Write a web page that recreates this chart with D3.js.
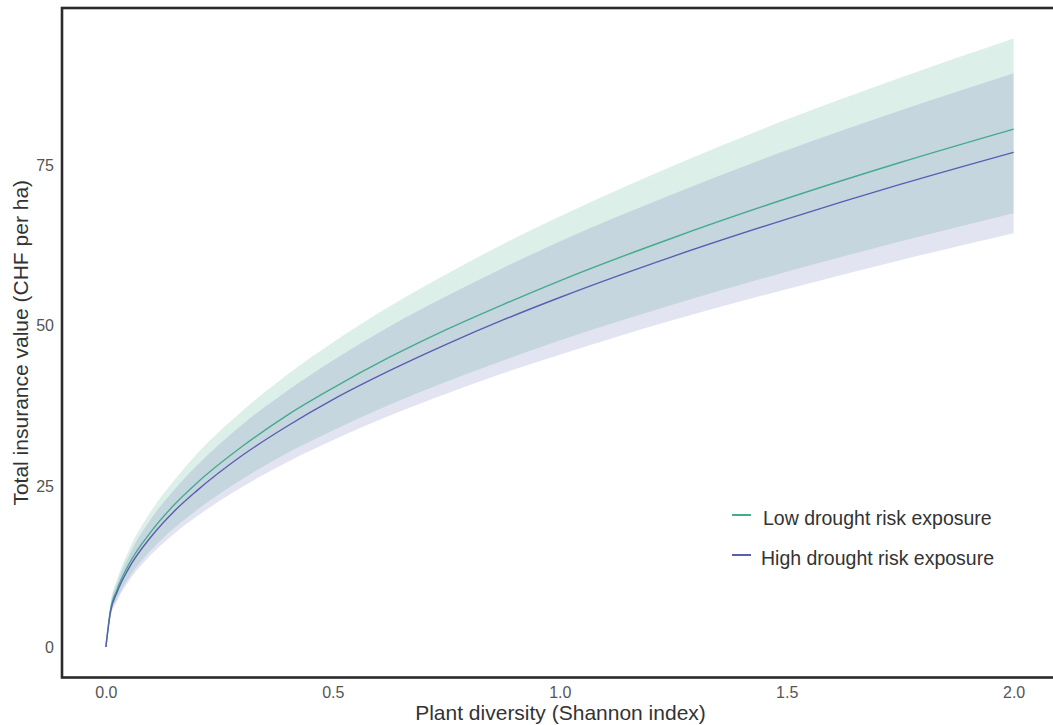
<!DOCTYPE html>
<html>
<head>
<meta charset="utf-8">
<script src="https://cdn.jsdelivr.net/npm/d3@7"></script>
<style>
	body { margin: 0; background: #fff; }
	svg { display: block; font-family: "Liberation Sans", Arial, sans-serif; }
</style>
</head>
<body>
<div id="chart"></div>
<script>
// Shannon index sample points
var diversity = [0, 0.01, 0.025, 0.05, 0.1, 0.15, 0.2, 0.3, 0.4, 0.5, 0.625, 0.75, 0.875, 1.0, 1.25, 1.5, 1.75, 2.0];

// low drought risk exposure
var lowMean = [0, 5.7, 9.0, 12.8, 18.0, 22.1, 25.5, 31.2, 36.1, 40.3, 45.1, 49.4, 53.3, 57.0, 63.7, 69.8, 75.4, 80.6];
var lowUpper = [0, 6.7, 10.6, 15.0, 21.2, 25.9, 30.0, 36.7, 42.4, 47.4, 53.0, 58.0, 62.7, 67.0, 74.9, 82.1, 88.6, 94.7];
var lowLower = [0, 4.8, 7.5, 10.7, 15.1, 18.5, 21.3, 26.1, 30.2, 33.7, 37.7, 41.3, 44.6, 47.7, 53.3, 58.4, 63.1, 67.5];

// high drought risk exposure
var highMean = [0, 5.4, 8.6, 12.2, 17.2, 21.1, 24.3, 29.8, 34.4, 38.5, 43.0, 47.1, 50.9, 54.4, 60.8, 66.6, 72.0, 77.0];
var highUpper = [0, 6.3, 10.0, 14.1, 20.0, 24.4, 28.2, 34.6, 39.9, 44.6, 49.9, 54.6, 59.0, 63.1, 70.5, 77.3, 83.5, 89.3];
var highLower = [0, 4.6, 7.2, 10.2, 14.4, 17.6, 20.3, 24.9, 28.8, 32.2, 36.0, 39.4, 42.6, 45.5, 50.9, 55.7, 60.2, 64.4];

var xTicks = [0, 0.5, 1.0, 1.5, 2.0];
var yTicks = [0, 25, 50, 75];
var seriesNames = ['Low drought risk exposure', 'High drought risk exposure'];
var seriesColor = ['#45ab8b', '#5a5db3'];

var width = 1053,
	height = 725;
var box = { left: 62, top: 8, right: 1059, bottom: 677.5 };

var svg = d3.select('#chart').append('svg')
	.attr('width', width)
	.attr('height', height);

var xScale = d3.scaleLinear()
	.domain([-0.1, 2.1])
	.range([box.left - 1.5, box.right]);
var yScale = d3.scaleLinear()
	.domain([-4.74, 99.45])
	.range([box.bottom, box.top]);

function rows(mean, lo, hi) {
	return diversity.map((x, i) => ({ x: x, m: mean[i], lo: lo[i], hi: hi[i] }));
}
var series = [rows(lowMean, lowLower, lowUpper), rows(highMean, highLower, highUpper)];

var area = d3.area()
	.x(d => xScale(d.x))
	.y0(d => yScale(d.lo))
	.y1(d => yScale(d.hi))
	.curve(d3.curveMonotoneX);
var line = d3.line()
	.x(d => xScale(d.x))
	.y(d => yScale(d.m))
	.curve(d3.curveMonotoneX);

// bands first, then the lines on top
svg.append('g')
	.selectAll('path')
	.data(series)
	.enter()
	.append('path')
	.attr('d', area)
	.attr('fill', (d, i) => seriesColor[i])
	.attr('fill-opacity', (d, i) => i == 0 ? 0.19 : 0.17);

svg.append('g')
	.selectAll('path')
	.data(series)
	.enter()
	.append('path')
	.attr('d', line)
	.attr('fill', 'none')
	.attr('stroke', (d, i) => seriesColor[i])
	.attr('stroke-width', 1.4);

// axes without tick marks
var xAxis = svg.append('g')
	.attr('transform', 'translate(0,' + box.bottom + ')')
	.call(d3.axisBottom(xScale).tickValues(xTicks).tickFormat(d3.format('.1f')).tickSize(0).tickPadding(9));
var yAxis = svg.append('g')
	.attr('transform', 'translate(' + box.left + ',0)')
	.call(d3.axisLeft(yScale).tickValues(yTicks).tickFormat(d3.format('d')).tickSize(0).tickPadding(8));
[xAxis, yAxis].forEach(a => {
	a.select('.domain').remove();
	a.selectAll('text')
		.attr('fill', '#555')
		.style('font-size', '16px')
		.style('font-family', '"Liberation Sans", Arial, sans-serif');
});

// frame
svg.append('rect')
	.attr('x', box.left)
	.attr('y', box.top)
	.attr('width', box.right - box.left)
	.attr('height', box.bottom - box.top)
	.attr('fill', 'none')
	.attr('stroke', '#2b2b2b')
	.attr('stroke-width', 2.6);

svg.append('text')
	.attr('x', (box.left + box.right) / 2)
	.attr('y', 720)
	.attr('text-anchor', 'middle')
	.attr('fill', '#333')
	.style('font-size', '21px')
	.text('Plant diversity (Shannon index)');

svg.append('text')
	.attr('transform', 'translate(28,' + (box.top + box.bottom) / 2 + ') rotate(-90)')
	.attr('text-anchor', 'middle')
	.attr('fill', '#333')
	.style('font-size', '21px')
	.text('Total insurance value (CHF per ha)');

var legend = svg.append('g')
	.selectAll('g')
	.data(seriesNames)
	.enter()
	.append('g')
	.attr('transform', (d, i) => 'translate(732,' + (515 + i * 40) + ')');
legend.append('line')
	.attr('x1', 0)
	.attr('x2', 19)
	.attr('stroke', (d, i) => seriesColor[i])
	.attr('stroke-width', 2);
legend.append('text')
	.attr('x', (d, i) => i == 0 ? 31 : 29)
	.attr('y', 10)
	.attr('fill', '#333')
	.style('font-size', '19.5px')
	.text(String);
</script>
</body>
</html>
